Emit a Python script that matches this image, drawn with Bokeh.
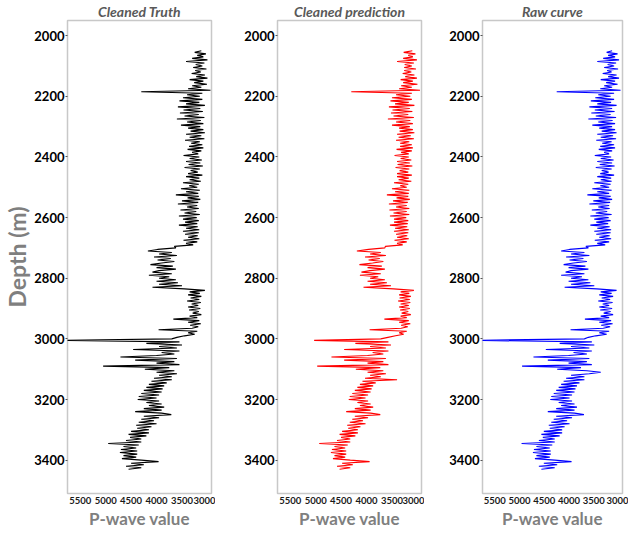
from bokeh.plotting import figure
from bokeh.layouts import row
from bokeh.models import Range1d, FixedTicker
from bokeh.embed import file_html
from bokeh.resources import INLINE

FONT = "Lato"

TITLES = ["Cleaned Truth", "Cleaned prediction", "Raw curve"]
X_TICKS = [3000, 3500, 4000, 4500, 5000, 5500]
Y_TICKS = [2000, 2200, 2400, 2600, 2800, 3000, 3200, 3400]

DEPTH_M = [
    2050, 2055, 2060, 2065, 2070, 2075, 2080, 2085, 2090, 2095,
    2100, 2105, 2110, 2115, 2120, 2125, 2130, 2135, 2140, 2145,
    2150, 2155, 2160, 2165, 2170, 2175, 2180, 2185, 2190, 2195,
    2200, 2205, 2210, 2215, 2220, 2225, 2230, 2235, 2240, 2245,
    2250, 2255, 2260, 2265, 2270, 2275, 2280, 2285, 2290, 2295,
    2300, 2305, 2310, 2315, 2320, 2325, 2330, 2335, 2340, 2345,
    2350, 2355, 2360, 2365, 2370, 2375, 2380, 2385, 2390, 2395,
    2400, 2405, 2410, 2415, 2420, 2425, 2430, 2435, 2440, 2445,
    2450, 2455, 2460, 2465, 2470, 2475, 2480, 2485, 2490, 2495,
    2500, 2505, 2510, 2515, 2520, 2525, 2530, 2535, 2540, 2545,
    2550, 2555, 2560, 2565, 2570, 2575, 2580, 2585, 2590, 2595,
    2600, 2605, 2610, 2615, 2620, 2625, 2630, 2635, 2640, 2645,
    2650, 2655, 2660, 2665, 2670, 2675, 2680, 2685, 2690, 2695,
    2700, 2705, 2710, 2715, 2720, 2725, 2730, 2735, 2740, 2745,
    2750, 2755, 2760, 2765, 2770, 2775, 2780, 2785, 2790, 2795,
    2800, 2805, 2810, 2815, 2820, 2825, 2830, 2835, 2840, 2845,
    2850, 2855, 2860, 2865, 2870, 2875, 2880, 2885, 2890, 2895,
    2900, 2905, 2910, 2915, 2920, 2925, 2930, 2935, 2940, 2945,
    2950, 2955, 2960, 2965, 2970, 2975, 2980, 2985, 2990, 2995,
    3000, 3005, 3010, 3015, 3020, 3025, 3030, 3035, 3040, 3045,
    3050, 3055, 3060, 3065, 3070, 3075, 3080, 3085, 3090, 3095,
    3100, 3105, 3110, 3115, 3120, 3125, 3130, 3135, 3140, 3145,
    3150, 3155, 3160, 3165, 3170, 3175, 3180, 3185, 3190, 3195,
    3200, 3205, 3210, 3215, 3220, 3225, 3230, 3235, 3240, 3245,
    3250, 3255, 3260, 3265, 3270, 3275, 3280, 3285, 3290, 3295,
    3300, 3305, 3310, 3315, 3320, 3325, 3330, 3335, 3340, 3345,
    3350, 3355, 3360, 3365, 3370, 3375, 3380, 3385, 3390, 3395,
    3400, 3405, 3410, 3415, 3420, 3425, 3430,
]

TRUTH = [
    3120, 3250, 3030, 3200, 3080, 3300, 3000, 3420, 3060, 3230,
    3100, 3280, 3020, 3240, 3130, 3310, 3050, 3220, 3000, 3350,
    3080, 3260, 3010, 3300, 3120, 3380, 2940, 4300, 3100, 3400,
    3150, 3480, 3100, 3550, 3160, 3420, 3050, 3580, 3140, 3470,
    3090, 3540, 3170, 3450, 3060, 3600, 3130, 3400, 3080, 3520,
    3140, 3380, 3080, 3330, 3050, 3420, 3120, 3350, 3060, 3440,
    3150, 3320, 3100, 3360, 3080, 3390, 3120, 3300, 3180, 3470,
    3160, 3350, 3110, 3420, 3140, 3370, 3090, 3450, 3150, 3330,
    3190, 3380, 3100, 3420, 3160, 3350, 3130, 3480, 3170, 3360,
    3200, 3520, 3150, 3420, 3180, 3620, 3170, 3390, 3140, 3500,
    3180, 3580, 3200, 3400, 3170, 3530, 3220, 3450, 3150, 3560,
    3210, 3480, 3170, 3440, 3200, 3560, 3190, 3420, 3160, 3480,
    3170, 3440, 3190, 3380, 3160, 3470, 3200, 3420, 3280, 3650,
    3620, 3980, 4170, 3700, 3950, 3600, 4050, 3720, 3980, 3650,
    3900, 4120, 3680, 4000, 3620, 3950, 4080, 3700, 4150, 3750,
    3950, 3620, 4000, 3580, 3950, 3500, 4080, 3450, 3050, 3350,
    3150, 3380, 3120, 3330, 3160, 3400, 3130, 3310, 3180, 3380,
    3140, 3360, 3170, 3290, 3120, 3350, 3200, 3670, 3160, 3380,
    3130, 3340, 3180, 3300, 3960, 3200, 3380, 3250, 3450, 3600,
    3700, 5900, 3550, 4200, 3500, 3950, 3600, 4460, 3550, 3900,
    3650, 4000, 4710, 3600, 4420, 3650, 4000, 3550, 5050, 3750,
    4230, 3650, 4000, 3600, 3950, 3700, 4050, 3700, 4100, 3800,
    4150, 3850, 4200, 3880, 4250, 3900, 4300, 3950, 4350, 4000,
    4370, 3950, 4200, 3900, 4150, 3850, 4250, 3900, 4420, 3900,
    3710, 4250, 3950, 4300, 4050, 4350, 4000, 4400, 4100, 4380,
    4150, 4500, 4150, 4550, 4200, 4520, 4300, 4600, 4300, 4950,
    4350, 4650, 4400, 4700, 4380, 4720, 4380, 4650, 4400, 4680,
    4300, 3960, 4500, 4250, 4600, 4300, 4550,
]

PREDICTION = [
    3100, 3270, 3040, 3180, 3090, 3280, 3010, 3400, 3070, 3250,
    3110, 3260, 3030, 3260, 3120, 3290, 3060, 3240, 3010, 3330,
    3090, 3280, 3000, 3320, 3110, 3360, 2950, 4300, 3110, 3420,
    3140, 3500, 3110, 3530, 3170, 3440, 3060, 3560, 3150, 3490,
    3100, 3520, 3180, 3470, 3070, 3580, 3140, 3420, 3090, 3500,
    3150, 3360, 3090, 3350, 3060, 3400, 3130, 3370, 3070, 3420,
    3160, 3340, 3110, 3340, 3090, 3410, 3110, 3320, 3170, 3450,
    3170, 3330, 3120, 3400, 3150, 3390, 3100, 3430, 3160, 3350,
    3180, 3400, 3110, 3400, 3170, 3370, 3120, 3460, 3180, 3340,
    3210, 3500, 3160, 3440, 3170, 3600, 3180, 3410, 3150, 3480,
    3190, 3560, 3210, 3420, 3160, 3550, 3210, 3470, 3160, 3540,
    3220, 3460, 3180, 3460, 3190, 3540, 3200, 3440, 3170, 3460,
    3180, 3420, 3200, 3400, 3170, 3450, 3210, 3400, 3290, 3630,
    3640, 3960, 4190, 3720, 3930, 3620, 4030, 3740, 3960, 3670,
    3880, 4140, 3700, 3980, 3640, 3930, 4100, 3720, 4130, 3770,
    3930, 3640, 3980, 3600, 3930, 3520, 4060, 3470, 3070, 3330,
    3160, 3360, 3130, 3350, 3150, 3380, 3140, 3330, 3170, 3360,
    3150, 3340, 3180, 3310, 3130, 3330, 3210, 3650, 3170, 3360,
    3140, 3320, 3190, 3320, 3940, 3210, 3360, 3270, 3430, 3580,
    3720, 5030, 3570, 4220, 3520, 3930, 3620, 4440, 3570, 3880,
    3670, 3980, 4690, 3620, 4440, 3670, 3980, 3570, 4970, 3730,
    4210, 3670, 3980, 3620, 3930, 3720, 4030, 3400, 4080, 3820,
    4130, 3870, 4180, 3900, 4230, 3920, 4280, 3970, 4330, 4020,
    4350, 3970, 4180, 3920, 4130, 3870, 4230, 3920, 4400, 3920,
    3730, 4230, 3970, 4280, 4070, 4330, 4020, 4380, 4120, 4360,
    4170, 4480, 4170, 4530, 4220, 4500, 4320, 4580, 4320, 4930,
    4370, 4630, 4420, 4680, 4400, 4700, 4400, 4630, 4420, 4660,
    4320, 3940, 4480, 4270, 4580, 4320, 4530,
]

RAW = [
    3130, 3240, 3020, 3210, 3070, 3310, 2990, 3430, 3050, 3220,
    3090, 3290, 3010, 3230, 3140, 3320, 3040, 3210, 2990, 3360,
    3070, 3250, 3020, 3290, 3130, 3370, 2960, 4250, 3090, 3410,
    3160, 3470, 3090, 3560, 3150, 3430, 3040, 3590, 3130, 3480,
    3080, 3550, 3160, 3460, 3050, 3610, 3120, 3410, 3070, 3530,
    3130, 3390, 3070, 3340, 3040, 3430, 3110, 3360, 3050, 3450,
    3140, 3330, 3090, 3370, 3070, 3400, 3130, 3290, 3190, 3480,
    3150, 3360, 3100, 3430, 3130, 3380, 3080, 3460, 3140, 3340,
    3200, 3370, 3090, 3430, 3150, 3360, 3140, 3490, 3160, 3370,
    3190, 3530, 3140, 3430, 3190, 3630, 3160, 3400, 3130, 3510,
    3170, 3590, 3190, 3410, 3180, 3540, 3230, 3460, 3140, 3570,
    3200, 3490, 3160, 3450, 3210, 3570, 3180, 3430, 3150, 3490,
    3160, 3450, 3180, 3390, 3150, 3480, 3190, 3430, 3270, 3660,
    3610, 3990, 4160, 3690, 3960, 3590, 4060, 3710, 3990, 3640,
    3910, 4110, 3670, 4010, 3610, 3960, 4070, 3690, 4160, 3740,
    3960, 3610, 4010, 3570, 3960, 3490, 4090, 3440, 3040, 3360,
    3140, 3390, 3110, 3340, 3170, 3410, 3120, 3320, 3190, 3390,
    3130, 3370, 3160, 3300, 3110, 3360, 3190, 3680, 3150, 3390,
    3120, 3350, 3170, 3310, 3970, 3190, 3390, 3240, 3460, 3610,
    3690, 5900, 3540, 4190, 3490, 3960, 3590, 4470, 3540, 3910,
    3640, 4010, 4720, 3590, 4430, 3640, 4010, 3540, 4950, 3760,
    4240, 3640, 3360, 3590, 3960, 3690, 4060, 3690, 4110, 3790,
    4160, 3840, 4210, 3870, 4260, 3890, 4310, 3940, 4360, 3990,
    4380, 3940, 4210, 3890, 4160, 3840, 4260, 3890, 4430, 3890,
    3700, 4260, 3940, 4310, 4040, 4360, 3990, 4410, 4090, 4390,
    4140, 4510, 4140, 4560, 4190, 4530, 4290, 4610, 4290, 4960,
    4340, 4660, 4390, 4710, 4370, 4730, 4370, 4660, 4390, 4690,
    4290, 3950, 4510, 4240, 4610, 4290, 4560,
]

COLORS = ["#000000", "#ff0000", "#0000ff"]
SERIES = [TRUTH, PREDICTION, RAW]
LEFTS = [61, 62, 58]
RIGHTS = [4, 3, 6]
FRAME_W = [144, 144, 140]


def make_panel(i):
    p = figure(frame_width=FRAME_W[i], frame_height=473, output_backend="svg",
               toolbar_location=None,
               x_range=Range1d(5750, 2920), y_range=Range1d(3510, 1950),
               min_border_left=LEFTS[i], min_border_right=RIGHTS[i],
               min_border_top=0, min_border_bottom=0)
    p.title.text = TITLES[i]
    p.title.align = "center"
    p.title.text_font = FONT
    p.title.text_font_style = "bold italic"
    p.title.text_font_size = "14px"
    p.title.text_color = "#595959"
    p.title.standoff = 1
    p.title.offset = 0

    p.line(SERIES[i], DEPTH_M, line_color=COLORS[i], line_width=1.1)

    p.grid.visible = False
    p.outline_line_color = "#c8c8c8"
    p.outline_line_width = 1.5

    xa = p.xaxis[0]
    xa.ticker = FixedTicker(ticks=X_TICKS)
    xa.axis_line_color = None
    xa.major_tick_line_color = None
    xa.minor_tick_line_color = None
    xa.major_tick_out = 0
    xa.major_tick_in = 0
    xa.minor_tick_out = 0
    xa.minor_tick_in = 0
    xa.major_label_text_font = FONT
    xa.major_label_text_font_size = "9.5px"
    xa.major_label_text_font_style = "bold"
    xa.major_label_text_color = "#1a1a1a"
    xa.major_label_standoff = 3
    xa.axis_label = "P-wave value"
    xa.axis_label_text_font = FONT
    xa.axis_label_text_font_size = "17px"
    xa.axis_label_text_font_style = "bold"
    xa.axis_label_text_color = "#7f7f7f"
    xa.axis_label_standoff = 1

    ya = p.yaxis[0]
    ya.ticker = FixedTicker(ticks=Y_TICKS)
    ya.axis_line_color = None
    ya.major_tick_line_color = "#555555"
    ya.major_tick_out = 2
    ya.major_tick_in = 0
    ya.minor_tick_line_color = None
    ya.minor_tick_out = 0
    ya.minor_tick_in = 0
    ya.major_label_text_font = FONT
    ya.major_label_text_font_size = "13px"
    ya.major_label_text_font_style = "bold"
    ya.major_label_text_color = "#000000"
    ya.major_label_standoff = 1
    if i == 0:
        ya.axis_label = "Depth (m)"
        ya.axis_label_text_font = FONT
        ya.axis_label_text_font_size = "23px"
        ya.axis_label_text_font_style = "bold"
        ya.axis_label_text_color = "#7f7f7f"
        ya.axis_label_standoff = 0
    return p


panels = [make_panel(i) for i in range(3)]
layout = row(*panels, spacing=0)

open("out.html", "w").write(file_html(layout, INLINE))
